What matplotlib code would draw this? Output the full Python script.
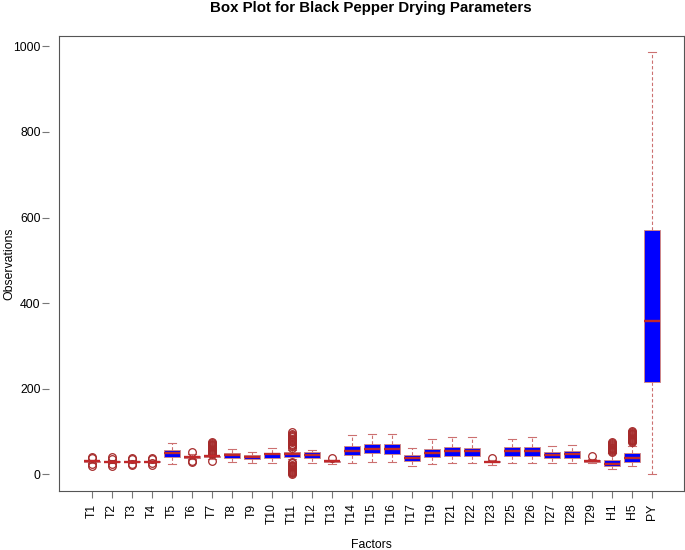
import matplotlib
matplotlib.use("Agg")
import matplotlib.pyplot as plt

plt.rcParams['font.family'] = ['Liberation Sans', 'DejaVu Sans']

labels = ["T1", "T2", "T3", "T4", "T5", "T6", "T7", "T8", "T9", "T10", "T11", "T12",
          "T13", "T14", "T15", "T16", "T17", "T19", "T21", "T22", "T23", "T25", "T26",
          "T27", "T28", "T29", "H1", "H5", "PY"]
whisker_lo = [26, 26, 26, 26, 23, 35, 35, 29, 26, 27, 35, 26, 24, 26, 28, 29, 20, 23, 25, 26,
              22, 27, 27, 27, 27, 25, 11, 20, 0]
q1 = [28.5, 27.5, 27.5, 27.5, 40, 38.5, 39, 37.5, 35, 37.5, 39, 38, 28, 44.5, 48.5, 47.5, 31,
      39, 42, 42, 27.5, 43.5, 43.5, 37.5, 38, 29.5, 18, 28, 215]
median = [30.2, 29, 29, 29, 49, 40.5, 41.3, 45, 41, 46, 47.5, 45, 29.6, 54.5, 59, 58.4, 38, 50,
          53, 53.7, 28.8, 55, 55, 45, 48, 31, 23.4, 38.5, 357]
q3 = [31.5, 30.5, 30.5, 30.5, 55.5, 42.5, 43.5, 48.5, 45, 49, 50.7, 50.7, 31, 65.4, 70, 69.4,
      43.7, 58.4, 63.8, 62.3, 30, 63.8, 63.8, 51.4, 53.7, 32.5, 33.4, 50.5, 570]
whisker_hi = [34, 33, 33, 33, 73, 46, 45, 59, 52, 60, 57, 57, 33, 91, 93.5, 93.5, 60.7, 81.8,
              88, 85.7, 32, 83.3, 85.7, 66, 67.7, 36, 50, 65, 986]
outliers = [
    [37, 40, 20, 23],
    [36, 39, 20, 23],
    [35, 38, 21, 24],
    [35, 38, 22, 25],
    [],
    [51, 31, 28],
    [47, 49, 51, 53, 55, 57, 59, 61, 63, 65, 67, 69, 71, 73, 75, 30],
    [],
    [],
    [],
    [62, 65, 68, 71, 74, 77, 80, 83, 86, 89, 92, 95, 98,
     0, 2, 4, 6, 8, 10, 12, 14, 16, 18, 20, 22, 25, 28],
    [],
    [38],
    [], [], [], [], [], [], [],
    [37],
    [], [], [], [],
    [42],
    [52, 54, 56, 58, 60, 62, 64, 66, 68, 70, 72, 74],
    [75, 77, 79, 81, 83, 85, 87, 89, 91, 93, 95, 97, 99, 101],
    [],
]

stats = []
for i, lab in enumerate(labels):
    stats.append(dict(label=lab, whislo=whisker_lo[i], q1=q1[i], med=median[i],
                      q3=q3[i], whishi=whisker_hi[i], fliers=outliers[i]))

brown = "#A52A2A"
fig = plt.figure(figsize=(6.85, 5.5), dpi=100)
ax = fig.add_axes([59 / 685, 59 / 550, 625 / 685, 455 / 550])

positions = list(range(1, len(labels) + 1))
ax.bxp(stats, positions=positions, widths=0.8, capwidths=0.4, patch_artist=True,
       boxprops=dict(facecolor="#0000FF", edgecolor="#D08888", linewidth=0.7),
       medianprops=dict(color="#C0282A", linewidth=1.7, solid_capstyle="butt"),
       whiskerprops=dict(color="#CC7070", linewidth=0.8, linestyle=(0, (3, 2))),
       capprops=dict(color="#CC7070", linewidth=0.8),
       flierprops=dict(marker="o", markerfacecolor="none", markeredgecolor=brown,
                       markersize=5.5, markeredgewidth=0.9))

ax.set_xlim(-0.65, 30.6)
ax.set_ylim(-39.4, 1024.4)
ax.set_yticks([0, 200, 400, 600, 800, 1000])
ax.set_xticks(positions)
ax.set_xticklabels(labels, rotation=90, fontsize=8.8)

frame_c = "#555555"
for s in ["top", "right", "bottom"]:
    ax.spines[s].set_color(frame_c)
    ax.spines[s].set_linewidth(0.8)
ax.spines["left"].set_position(("outward", 7.2))
ax.spines["left"].set_linewidth(0)
ax.plot([0, 0], [0, 1], transform=ax.transAxes, color=frame_c, lw=0.8, clip_on=False)

ax.tick_params(axis="both", direction="out", length=5, width=0.8, color="#777777",
               labelsize=8.8)
ax.tick_params(axis="y", pad=1)
ax.tick_params(axis="x", pad=4)

ax.set_xlabel("Factors", fontsize=8.8)
ax.xaxis.set_label_coords(0.5, -0.105)
ax.set_ylabel("Observations", fontsize=8.8, va="center")
ax.yaxis.set_label_coords(-0.08, 0.5)

fig.text(371 / 685, 1 - 8 / 550, "Box Plot for Black Pepper Drying Parameters",
         ha="center", va="center", fontsize=10.8, fontweight="bold")

fig.savefig("out.png", dpi=100)
